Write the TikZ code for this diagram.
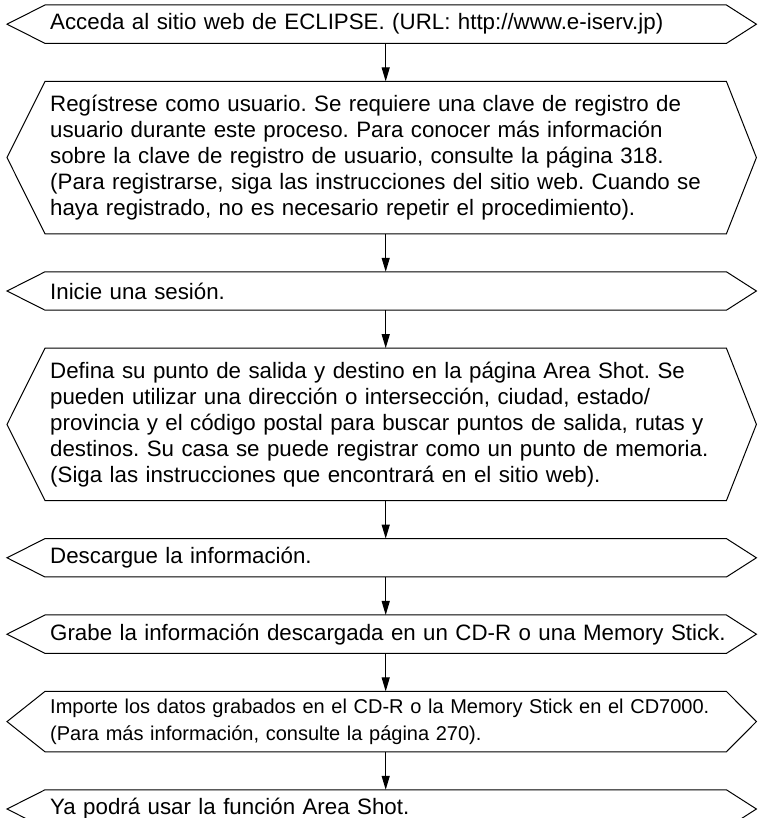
\documentclass[tikz,border=0pt]{standalone}
\usepackage{fontspec}
\setmainfont{Liberation Sans}
\usetikzlibrary{positioning, arrows.meta}
\frenchspacing

\begin{document}
\begin{tikzpicture}[
    x=1pt, y=1pt,
    node distance=38pt,
    stepbox/.style={rectangle, minimum height=38pt, text width=671pt, inner xsep=5pt, inner ysep=0pt, align=left, font=\fontsize{22.3}{26}\selectfont},
    >={Triangle[length=14pt,width=8pt]}
]
\useasboundingbox (0,0) rectangle (757,818);
\node[stepbox, anchor=north west] (acceso) at (45,813) {Acceda al sitio web de ECLIPSE. (URL: http://www.e-iserv.jp)};
\node[stepbox, minimum height=152pt] (registro) [below=of acceso] {Regístrese como usuario. Se requiere una clave de registro de\\
usuario durante este proceso. Para conocer más información\\
sobre la clave de registro de usuario, consulte la página 318.\\
(Para registrarse, siga las instrucciones del sitio web. Cuando se\\
haya registrado, no es necesario repetir el procedimiento).};
\node[stepbox] (sesion) [below=of registro] {Inicie una sesión.};
\node[stepbox, minimum height=152pt] (destino) [below=of sesion] {Defina su punto de salida y destino en la página Area Shot. Se\\
pueden utilizar una dirección o intersección, ciudad, estado/\\
provincia y el código postal para buscar puntos de salida, rutas y\\
destinos. Su casa se puede registrar como un punto de memoria.\\
(Siga las instrucciones que encontrará en el sitio web).};
\node[stepbox] (descarga) [below=of destino] {Descargue la información.};
\node[stepbox] (grabar) [below=of descarga] {\mbox{Grabe la información descargada en un CD-R o una Memory Stick.}};
\node[stepbox, minimum height=60pt, font=\fontsize{20}{27}\selectfont] (importar) [below=of grabar] {Importe los datos grabados en el CD-R o la Memory Stick en el CD7000.\\
(Para más información, consulte la página 270).};
\node[stepbox] (usar) [below=of importar] {Ya podrá usar la función Area Shot.};
% outlines
\foreach \n in {acceso, registro, sesion, destino, descarga, grabar, importar, usar}
    \draw[line width=1pt] (\n.north west) -- ([xshift=-38pt]\n.west) -- (\n.south west) -- (\n.south east) -- ([xshift=30pt]\n.east) -- (\n.north east) -- cycle;
\draw[->, line width=1.2pt] (acceso) -- (registro);
\draw[->, line width=1.2pt] (registro) -- (sesion);
\draw[->, line width=1.2pt] (sesion) -- (destino);
\draw[->, line width=1.2pt] (destino) -- (descarga);
\draw[->, line width=1.2pt] (descarga) -- (grabar);
\draw[->, line width=1.2pt] (grabar) -- (importar);
\draw[->, line width=1.2pt] (importar) -- (usar);
\end{tikzpicture}
\end{document}
